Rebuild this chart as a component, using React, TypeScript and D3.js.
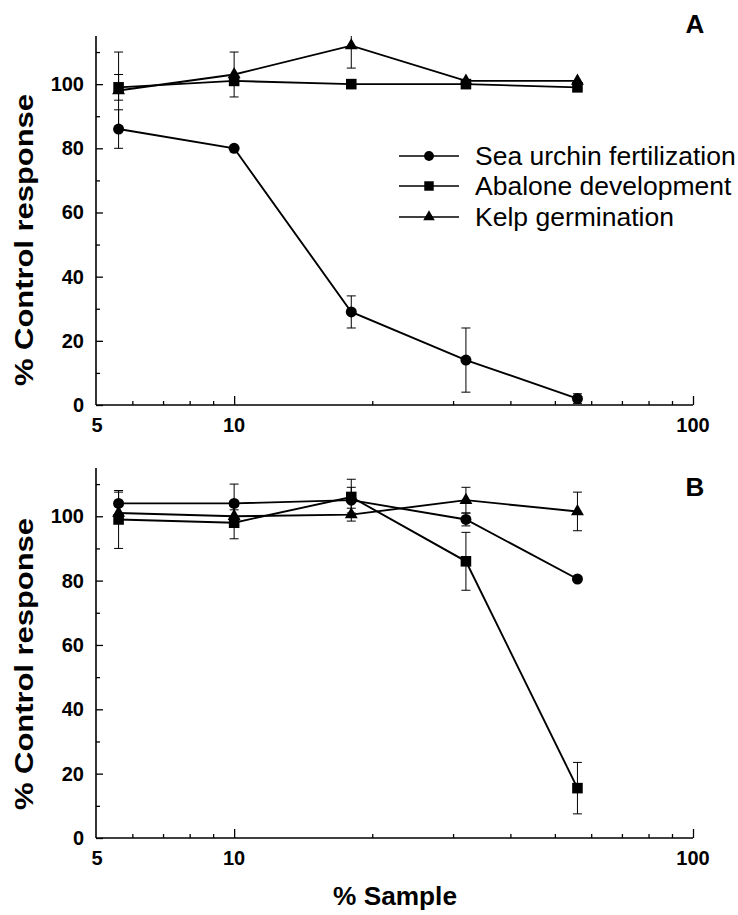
import React, { useEffect, useRef } from "react";
import * as d3 from "d3";

// ---- data ----
const xValues = [5.6, 10, 18, 32, 56];
const xMajorTicks = [10, 100];
const xMinorTicks = [6, 7, 8, 9, 20, 30, 40, 50, 60, 70, 80, 90];
const xTickLabels = [5, 10, 100];
const yMajorTicks = [0, 20, 40, 60, 80, 100];
const yMinorTicks = [10, 30, 50, 70, 90, 110];
const seriesNames = ["Sea urchin fertilization", "Abalone development", "Kelp germination"];
const seriesSymbols = ["circle", "square", "triangle"];

// Panel A
const urchinA = [86, 80, 29, 14, 2];
const urchinAErr = [6, 0, 5, 10, 1.5];
const abaloneA = [99, 101, 100, 100, 99];
const abaloneAErr = [4, 0, 0, 0, 0];
const kelpA = [98, 103, 112, 101, 101];
const kelpAErr = [12, 7, 7, 0, 0];

// Panel B
const urchinB = [104, 104, 105, 99, 80.5];
const urchinBErr = [3.5, 6, 4, 2, 0];
const abaloneB = [99, 98, 106, 86, 15.5];
const abaloneBErr = [9, 5, 5.5, 9, 8];
const kelpB = [101, 100, 100.5, 105, 101.5];
const kelpBErr = [2, 2, 2, 4, 6];

const FONT = "'Liberation Sans', Arial, Helvetica, sans-serif";

export default function App() {
  const ref = useRef<SVGSVGElement>(null);

  useEffect(() => {
    const svg = d3.select(ref.current);
    svg.selectAll("*").remove();

    const yMax = 115;
    const x = d3.scaleLog().domain([5, 100]).range([96, 693]);

    const panels = [
      {
        label: "A",
        labelY: 33,
        y: d3.scaleLinear().domain([0, yMax]).range([405, 36]),
        series: [
          { vals: urchinA, err: urchinAErr, sym: seriesSymbols[0] },
          { vals: abaloneA, err: abaloneAErr, sym: seriesSymbols[1] },
          { vals: kelpA, err: kelpAErr, sym: seriesSymbols[2] },
        ],
        legend: true,
        titleCenter: 240,
      },
      {
        label: "B",
        labelY: 496,
        y: d3.scaleLinear().domain([0, yMax]).range([838, 468]),
        series: [
          { vals: urchinB, err: urchinBErr, sym: seriesSymbols[0] },
          { vals: abaloneB, err: abaloneBErr, sym: seriesSymbols[1] },
          { vals: kelpB, err: kelpBErr, sym: seriesSymbols[2] },
        ],
        legend: false,
        titleCenter: 664,
      },
    ];

    const symGen = (kind: string, scale = 1) => {
      const t =
        kind === "circle" ? d3.symbolCircle : kind === "square" ? d3.symbolSquare : d3.symbolTriangle;
      const size = kind === "circle" ? 95 : kind === "square" ? 112 : 72;
      return d3.symbol().type(t).size(size * scale)();
    };

    panels.forEach((p) => {
      const g = svg.append("g");
      const y = p.y;
      const y0 = y(0);

      // y axis
      const ya = g.append("g").attr("transform", `translate(${x(5)},0)`);
      ya.call(
        d3.axisLeft(y).tickValues(yMajorTicks).tickSize(-7).tickSizeOuter(0).tickPadding(12)
      );
      ya.append("g").call(
        d3
          .axisLeft(y)
          .tickValues(yMinorTicks)
          .tickSize(-4)
          .tickSizeOuter(0)
          .tickFormat(() => "")
      );
      ya.selectAll("path.domain").remove();
      ya.append("line")
        .attr("x1", 0)
        .attr("x2", 0)
        .attr("y1", y(0))
        .attr("y2", y(yMax))
        .attr("stroke", "#000")
        .attr("stroke-width", 1.6);
      ya.selectAll(".tick line").attr("stroke", "#000").attr("stroke-width", 1.3);
      ya.selectAll(".tick text")
        .attr("font-family", FONT)
        .attr("font-size", 20)
        .attr("font-weight", "bold")
        .attr("fill", "#000");

      // x axis
      const xa = g.append("g").attr("transform", `translate(0,${y0})`);
      xa.call(d3.axisBottom(x).tickValues(xMajorTicks).tickSize(-9).tickSizeOuter(0).tickFormat(() => ""));
      xa.append("g").call(
        d3.axisBottom(x).tickValues(xMinorTicks).tickSize(-4).tickSizeOuter(0).tickFormat(() => "")
      );
      xa.selectAll("path.domain").remove();
      xa.append("line")
        .attr("x1", x(5))
        .attr("x2", x(100))
        .attr("stroke", "#000")
        .attr("stroke-width", 1.6);
      xa.selectAll(".tick line").attr("stroke", "#000").attr("stroke-width", 1.3);
      xa.selectAll("text.xl")
        .data(xTickLabels)
        .enter()
        .append("text")
        .attr("class", "xl")
        .attr("x", (d) => x(d) + (d === 5 ? 1 : 0))
        .attr("y", 27)
        .attr("text-anchor", "middle")
        .attr("font-family", FONT)
        .attr("font-size", 20)
        .attr("font-weight", "bold")
        .attr("fill", "#000")
        .text((d) => String(d));

      // lines
      const line = d3
        .line<number>()
        .x((_, i) => x(xValues[i]))
        .y((d) => y(d));
      p.series.forEach((s) => {
        g.append("path")
          .attr("d", line(s.vals))
          .attr("fill", "none")
          .attr("stroke", "#000")
          .attr("stroke-width", 1.9);
      });

      // error bars
      p.series.forEach((s) => {
        s.vals.forEach((v, i) => {
          const e = s.err[i];
          if (!e) return;
          const cx = x(xValues[i]);
          const hi = Math.min(v + e, yMax);
          const lo = Math.max(v - e, 0);
          g.append("line")
            .attr("x1", cx)
            .attr("x2", cx)
            .attr("y1", y(lo))
            .attr("y2", y(hi))
            .attr("stroke", "#000")
            .attr("stroke-width", 1);
          [lo, hi].forEach((b, bi) => {
            if (bi === 1 && v + e > yMax) return;
            g.append("line")
              .attr("x1", cx - 4.5)
              .attr("x2", cx + 4.5)
              .attr("y1", y(b))
              .attr("y2", y(b))
              .attr("stroke", "#000")
              .attr("stroke-width", 1);
          });
        });
      });

      // markers
      p.series.forEach((s) => {
        s.vals.forEach((v, i) => {
          g.append("path")
            .attr("d", symGen(s.sym))
            .attr("transform", `translate(${x(xValues[i])},${y(v)})`)
            .attr("fill", "#000");
        });
      });

      // panel letter
      g.append("text")
        .attr("x", 695)
        .attr("y", p.labelY)
        .attr("text-anchor", "middle")
        .attr("font-family", FONT)
        .attr("font-size", 26)
        .attr("font-weight", "bold")
        .attr("fill", "#000")
        .text(p.label);

      // y title
      g.append("text")
        .attr("transform", `translate(33,${p.titleCenter}) rotate(-90)`)
        .attr("text-anchor", "middle")
        .attr("font-family", FONT)
        .attr("font-size", 26)
        .attr("font-weight", "bold")
        .attr("textLength", 292)
        .attr("lengthAdjust", "spacingAndGlyphs")
        .attr("fill", "#000")
        .text("% Control response");

      // legend
      if (p.legend) {
        const ly = [156, 186, 217];
        seriesNames.forEach((name, i) => {
          const lg = g.append("g").attr("transform", `translate(0,${ly[i]})`);
          lg.append("line")
            .attr("x1", 399)
            .attr("x2", 459)
            .attr("stroke", "#000")
            .attr("stroke-width", 1.5);
          lg.append("path")
            .attr("d", symGen(seriesSymbols[i], 0.8))
            .attr("transform", `translate(429,0)`)
            .attr("fill", "#000");
          lg.append("text")
            .attr("x", 475)
            .attr("y", 9)
            .attr("font-family", FONT)
            .attr("font-size", 26.5)
            .attr("fill", "#000")
            .text(name);
        });
      }
    });

    // x title
    svg
      .append("text")
      .attr("x", 395)
      .attr("y", 905)
      .attr("text-anchor", "middle")
      .attr("font-family", FONT)
      .attr("font-size", 25)
      .attr("font-weight", "bold")
      .attr("textLength", 124)
      .attr("lengthAdjust", "spacingAndGlyphs")
      .attr("fill", "#000")
      .text("% Sample");
  }, []);

  return (
    <svg
      ref={ref}
      width={738}
      height={915}
      style={{ position: "absolute", left: 0, top: 0, background: "#fff" }}
    />
  );
}
